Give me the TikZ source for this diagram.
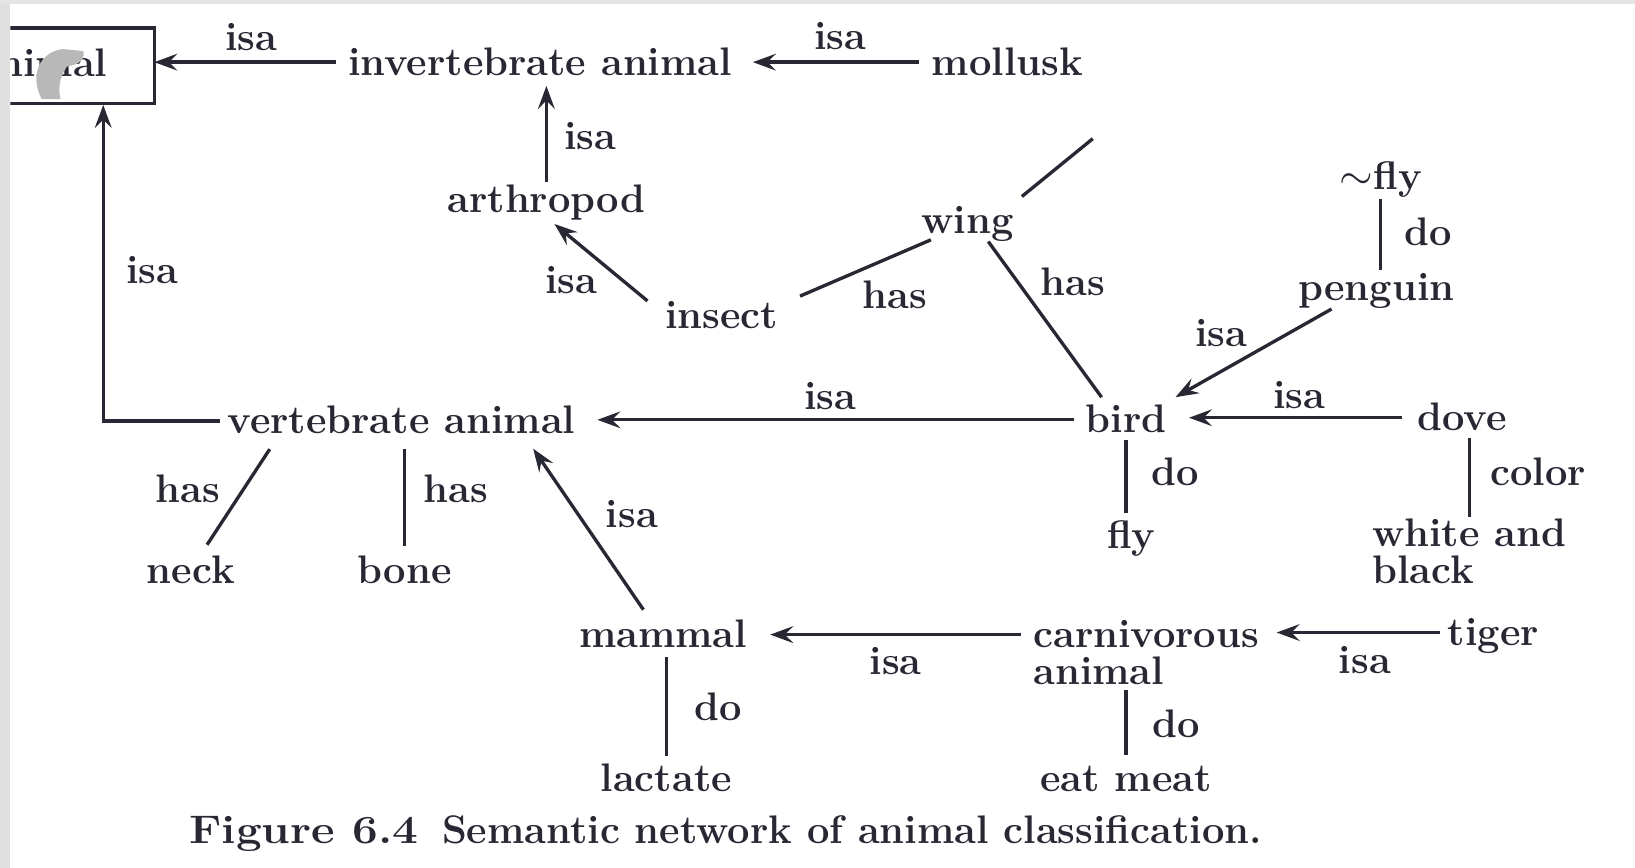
\documentclass[tikz,border=0pt]{standalone}
\usetikzlibrary{arrows.meta}
\definecolor{ink}{RGB}{40,40,52}
\begin{document}
\begin{tikzpicture}[x=0.5pt,y=-0.5pt,
  font=\fontsize{19.1}{17.8}\selectfont\bfseries,
  color=ink, text=ink, line width=1.6pt,
  nd/.style={inner sep=0pt,outer sep=0pt,text height=14.6pt,text depth=2.2pt,anchor=base},
  lb/.style={inner sep=0pt,outer sep=0pt,anchor=base},
  ml/.style={inner sep=0pt,outer sep=0pt,align=left,anchor=north west},
  arr/.style={-{Stealth[length=11pt,width=8pt,inset=4pt]}}]
\useasboundingbox (0,0) rectangle (1568,832);
\fill[white] (0,0) rectangle (1568,832);
\fill[black!12] (0,0) rectangle (10,832);
\fill[black!10] (0,0) rectangle (1568,4);

% clipped "animal" box
\begin{scope}
\clip (10,0) rectangle (1568,832);
\node[draw,inner sep=0pt,outer sep=0pt,minimum width=89pt,minimum height=36pt] (animal) at (59,63) {};
\node[nd,anchor=base east] (animaltext) at (103,73.5) {animal};
\fill[black!28] (40,95) .. controls (28,72) and (38,50) .. (60,47) -- (80,49) .. controls (82,60) and (72,62) .. (64,64) .. controls (56,76) and (56,86) .. (58,95) -- cycle;
\end{scope}

% nodes
\node[nd] (inv) at (518,72) {invertebrate animal};
\node[nd] (mollusk) at (966,72) {mollusk};
\node[nd] (arthropod) at (524,204) {arthropod};
\node[nd] (insect) at (692,315) {insect};
\node[nd] (wing) at (928,224) {wing};
\coordinate (wingend) at (1048,133);
\node[nd] (nfly) at (1324,182) {$\sim$fly};
\node[nd] (penguin) at (1320,288) {penguin};
\node[nd] (bird) at (1080,415) {bird};
\node[nd] (dove) at (1402,413) {dove};
\node[nd] (fly) at (1085,526) {fly};
\node[ml] (white) at (1316,497.5) {white and\\black};
\node[nd] (vert) at (385,416) {vertebrate animal};
\node[nd] (neck) at (183,560) {neck};
\node[nd] (bone) at (388,560) {bone};
\node[nd] (mammal) at (636,621) {mammal};
\node[ml] (carn) at (991,594.5) {carnivorous\\animal};
\node[nd] (tiger) at (1432,619) {tiger};
\node[nd] (lactate) at (639,759) {lactate};
\node[nd] (eat) at (1080,759) {eat meat};

% labels
\node[lb] (l1) at (241,48) {isa};
\node[lb] (l2) at (806,47) {isa};
\node[lb] (l3) at (566,143) {isa};
\node[lb] (l4) at (548,281) {isa};
\node[lb] (l5) at (858,296) {has};
\node[lb] (l6) at (1029,283) {has};
\node[lb] (l7) at (1370,235) {do};
\node[lb] (l8) at (1171,332) {isa};
\node[lb] (l9) at (796,393) {isa};
\node[lb] (l10) at (1246,392) {isa};
\node[lb] (l11) at (1127,466) {do};
\node[lb] (l12) at (1475,466) {color};
\node[lb] (l13) at (146,272) {isa};
\node[lb] (l14) at (180,482) {has};
\node[lb] (l15) at (437,482) {has};
\node[lb] (l16) at (606,506) {isa};
\node[lb] (l17) at (689,691) {do};
\node[lb] (l18) at (859,647) {isa};
\node[lb] (l19) at (1309,646) {isa};
\node[lb] (l20) at (1128,707) {do};

% connectors
\draw[arr,shorten <=6pt] (inv.west) -- (inv.west -| animal.east);
\draw[arr,shorten <=6pt,shorten >=10pt] (mollusk.west) -- (mollusk.west -| inv.east);
\draw[arr,shorten >=3pt] (arthropod.north) -- (arthropod.north |- inv.south);
\draw[arr,shorten <=11pt,shorten >=5pt] (insect.west) -- (arthropod.south);
\draw[shorten <=11.5pt,shorten >=2pt] (insect.10) -- (wing.208);
\draw[shorten <=5pt] (wing.north east) -- (wingend);
\draw[shorten <=2pt,shorten >=3pt] (wing.-44) -- (bird.140);
\draw[shorten <=2pt] (nfly.south) -- (nfly.south |- penguin.north);
\draw[arr,shorten <=4pt,shorten >=5pt] (penguin.205) -- (bird.north east);
\draw[arr,shorten <=5.8pt,shorten >=10.6pt] (bird.west) -- (bird.west -| vert.east);
\draw[arr,shorten <=7.2pt,shorten >=10.8pt] (dove.west) -- (dove.west -| bird.east);
\draw[shorten <=1.4pt,shorten >=0.8pt] (white.north |- dove.south) -- (white.north);
\draw[shorten <=1.4pt,shorten >=2.6pt] (bird.south) -- (bird.south |- fly.north);
\draw[arr,shorten <=3.5pt,shorten >=0.8pt] (vert.west) -| (animal.-42.7);
\draw[shorten <=6.2pt,shorten >=5pt] (vert.188.7) -- (neck.59);
\draw[shorten <=5pt,shorten >=3.6pt] (bone.north |- vert.south) -- (bone.north);
\draw[arr,shorten <=4.3pt,shorten >=6pt] (mammal.130) -- (vert.-8);
\draw[shorten <=2.4pt,shorten >=2.6pt] (lactate.north |- mammal.south) -- (lactate.north);
\draw[arr,shorten <=6pt,shorten >=11pt] (carn.north west |- mammal.east) -- (mammal.east);
\draw[arr,shorten <=3.5pt,shorten >=8.5pt] (tiger.west) -- (tiger.west -| carn.east);
\draw[shorten <=2.7pt,shorten >=3.1pt] (eat.north |- carn.south) -- (eat.north);

% caption
\node[lb] (caption) at (696,809) {\scalebox{1.15}[1]{Figure 6.4}\hspace{0.6em}Semantic network of animal classification.};
\end{tikzpicture}
\end{document}
